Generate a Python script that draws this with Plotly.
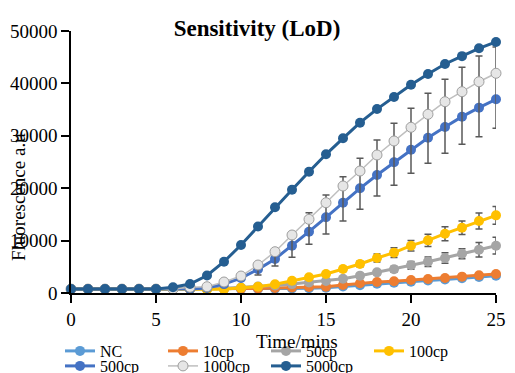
import plotly.graph_objects as go

time_min = list(range(0, 26))

nc = [750, 750, 750, 750, 750, 750, 750, 750, 750, 750, 760, 780, 820, 870, 930, 1000,
      1250, 1500, 1750, 1950, 2150, 2400, 2600, 2800, 3050, 3300]
cp10 = [750, 750, 750, 750, 750, 750, 750, 750, 750, 760, 800, 850, 950, 1050, 1150, 1210,
        1530, 1850, 2100, 2230, 2480, 2670, 2860, 3120, 3370, 3630]
cp50 = [750, 750, 750, 750, 750, 750, 750, 750, 800, 900, 1050, 1250, 1450, 1700, 2000, 2290,
        2730, 3310, 3940, 4520, 5280, 5980, 6680, 7500, 8260, 9030]
cp100 = [750, 750, 750, 750, 750, 750, 750, 700, 650, 700, 1010, 1200, 1660, 2350, 2990, 3630,
         4580, 5530, 6680, 7700, 9030, 10050, 11320, 12460, 13740, 14820]
cp500 = [750, 750, 750, 750, 750, 750, 750, 750, 950, 1700, 2860, 4520, 6490, 9030, 11700, 14450,
         17230, 19980, 22520, 24940, 27350, 29640, 31680, 33650, 35370, 36970]
cp1000 = [750, 750, 750, 750, 750, 750, 750, 1090, 1200, 2100, 3240, 5340, 7880, 11070, 14060, 17230,
          20420, 23280, 26340, 29010, 31620, 34100, 36510, 38420, 40320, 41930]
cp5000 = [750, 750, 750, 750, 750, 760, 1090, 1720, 3340, 5970, 9160, 12690, 16350, 19710, 23150, 26470,
          29520, 32500, 35100, 37400, 39750, 41800, 43700, 45200, 46700, 47900]

err1000_plus = [0]*11 + [200, 400, 630, 1260, 1470, 1770, 2420, 2860, 3380, 3630, 4010, 4270, 4660, 4900, 5000]
err1000_minus = [0]*11 + [1910, 2730, 4260, 4770, 5970, 6680, 7310, 7820, 8450, 8780, 9350, 9850, 10040, 10500, 10500]
err100 = [0]*13 + [200, 280, 380, 480, 570, 760, 920, 1000, 1180, 1330, 1300, 1530, 1700]
err50 = [0]*15 + [200, 290, 380, 480, 570, 730, 900, 980, 950, 1370, 1590]

names = ["NC", "10cp", "50cp", "100cp", "500cp", "1000cp", "5000cp"]
colors = ["#5B9BD5", "#ED7D31", "#A5A5A5", "#FFC000", "#4472C4", "#BFBFBF", "#255E91"]
series = [nc, cp10, cp50, cp100, cp500, cp1000, cp5000]

FONT = "Liberation Serif, Times New Roman, serif"
W, H = 515, 373
ML, MT, PW, PH = 63, 23, 425, 262

fig = go.Figure()
for i, (nm, col, ys) in enumerate(zip(names, colors, series)):
    legend = "legend" if i < 4 else "legend2"
    kw = {}
    if nm == "1000cp":
        marker = dict(size=10, color="#E6E6E6", line=dict(color="#9E9E9E", width=1))
        line = dict(color=col, width=1.5)
        kw["error_y"] = dict(type="data", symmetric=False, array=err1000_plus,
                             arrayminus=err1000_minus, color="#595959", thickness=1.5, width=3.5)
    else:
        marker = dict(size=10, color=col)
        line = dict(color=col, width=3)
        if nm == "100cp":
            kw["error_y"] = dict(type="data", array=err100, color="#595959", thickness=1.5, width=3.5)
        if nm == "50cp":
            kw["error_y"] = dict(type="data", array=err50, color="#595959", thickness=1.5, width=3.5)
    fig.add_trace(go.Scatter(x=time_min, y=ys, name=nm, mode="lines+markers",
                             marker=marker, line=line, cliponaxis=False, legend=legend, **kw))

legend_common = dict(orientation="h", xref="container", yref="container", x=52/W, xanchor="left",
                     yanchor="middle", entrywidth=58, font=dict(size=16, family=FONT, color="black"),
                     bgcolor="rgba(0,0,0,0)", itemwidth=30)

fig.update_layout(
    template="none",
    width=W, height=H,
    margin=dict(l=ML, r=W-ML-PW, t=MT, b=H-MT-PH, autoexpand=False),
    plot_bgcolor="white", paper_bgcolor="white",
    font=dict(family=FONT, size=19, color="black"),
    title=dict(text="<b>Sensitivity (LoD)</b>", x=(257-8)/W, xref="container", xanchor="center",
               y=1 - 20/H, yanchor="middle", font=dict(size=23, family=FONT, color="black")),
    xaxis=dict(range=[0, 25], tickvals=[0, 5, 10, 15, 20, 25], ticks="outside", ticklen=8,
               tickwidth=1.5, tickcolor="black", showline=True, linecolor="black", linewidth=1.5,
               showgrid=False, zeroline=False, automargin=False,
               tickfont=dict(size=19, family=FONT, color="black")),
    yaxis=dict(range=[0, 50000], tickvals=[0, 10000, 20000, 30000, 40000, 50000],
               ticktext=["0", "10000", "20000", "30000", "40000", "50000"], ticks="outside",
               ticklen=8, tickwidth=1.5, tickcolor="black", showline=True, linecolor="black",
               linewidth=1.5, showgrid=False, zeroline=False, automargin=False,
               tickfont=dict(size=19, family=FONT, color="black")),
    legend=dict(y=(H-343)/H, **legend_common),
    legend2=dict(y=(H-358)/H, **legend_common),
    annotations=[
        dict(text="Time/mins", xref="paper", yref="paper", x=(297-71)/PW, y=-(341-293)/PH,
             xanchor="center", yanchor="middle", showarrow=False,
             font=dict(size=19, family=FONT, color="black")),
        dict(text="Fluorescence a.u", xref="paper", yref="paper", x=-(71-18)/PW,
             y=(293-197)/PH, xanchor="center", yanchor="middle", textangle=-90,
             showarrow=False, font=dict(size=19, family=FONT, color="black")),
    ],
)

fig.write_html("out.html")
